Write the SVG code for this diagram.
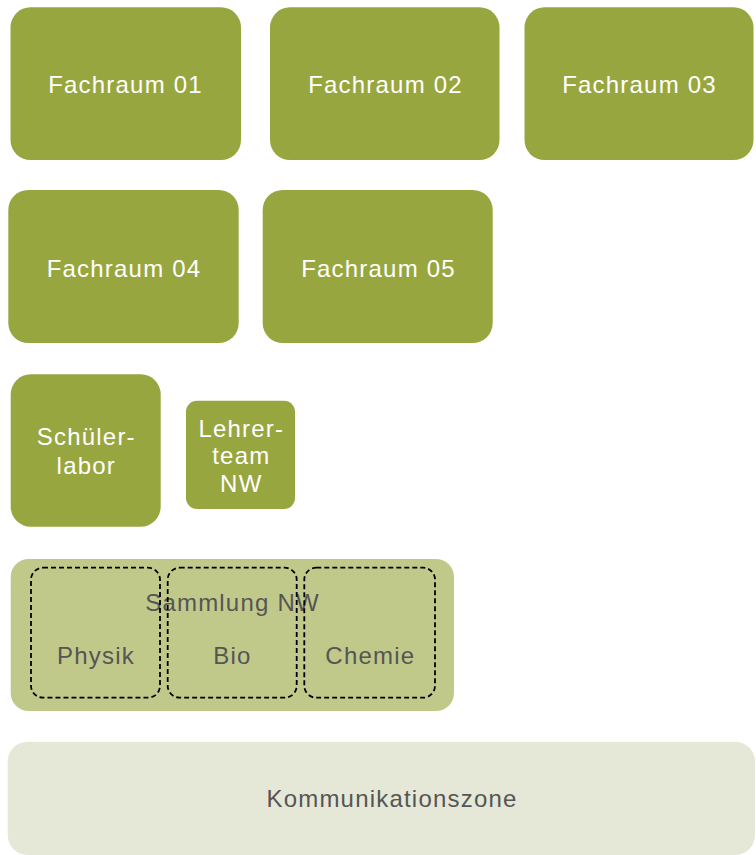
<svg xmlns="http://www.w3.org/2000/svg" width="756" height="855" viewBox="0 0 756 855">
<style>
.room{fill:#98a63f}
.t{font-family:"Liberation Sans",Arial,sans-serif;font-size:24px;letter-spacing:1.2px;text-anchor:middle}
.w{fill:#ffffff}
.g{fill:#555555}
.dash{fill:none;stroke:#000000;stroke-width:1.8;stroke-dasharray:5 3}
</style>
<rect width="756" height="855" fill="#ffffff"/>
<g id="fachraum01"><rect class="room" x="10.5" y="7.3" width="230.5" height="152.7" rx="20"/><text class="t w" x="125.5" y="93.3">Fachraum 01</text></g>
<g id="fachraum02"><rect class="room" x="270" y="7.3" width="229.5" height="152.7" rx="20"/><text class="t w" x="385.5" y="93.3">Fachraum 02</text></g>
<g id="fachraum03"><rect class="room" x="524.5" y="7.3" width="229" height="152.7" rx="20"/><text class="t w" x="639.5" y="93.3">Fachraum 03</text></g>
<g id="fachraum04"><rect class="room" x="8.3" y="190" width="230.4" height="153" rx="20"/><text class="t w" x="124" y="276.5">Fachraum 04</text></g>
<g id="fachraum05"><rect class="room" x="262.7" y="190" width="230" height="153" rx="20"/><text class="t w" x="378.5" y="276.5">Fachraum 05</text></g>
<g id="schuelerlabor"><rect class="room" x="10.7" y="374.3" width="150" height="152.4" rx="20"/><text class="t w" x="86.3" y="445">Schüler-</text><text class="t w" x="86.3" y="474.3">labor</text></g>
<g id="lehrerteam"><rect class="room" x="186" y="400.7" width="109" height="108.3" rx="11"/><text class="t w" x="241.3" y="436.7">Lehrer-</text><text class="t w" x="241.3" y="464.3">team</text><text class="t w" x="241.3" y="492.3">NW</text></g>
<g id="sammlung"><rect x="10.7" y="559" width="443.3" height="152" rx="18" fill="#c1c98a"/><text class="t g" x="232.5" y="611">Sammlung NW</text></g>
<g id="physik"><rect class="dash" x="31" y="567.7" width="129" height="130" rx="12"/><text class="t g" x="96" y="664.3">Physik</text></g>
<g id="bio"><rect class="dash" x="167.7" y="567.7" width="129" height="130" rx="12"/><text class="t g" x="232.5" y="664.3">Bio</text></g>
<g id="chemie"><rect class="dash" x="304.3" y="567.7" width="130.7" height="130" rx="12"/><text class="t g" x="370.3" y="664.3">Chemie</text></g>
<g id="kommunikationszone"><rect x="7.7" y="741.7" width="747.3" height="113.3" rx="20" fill="#e5e8d7"/><text class="t g" x="392" y="807.3">Kommunikationszone</text></g>
<g id="connectors"></g>
</svg>
